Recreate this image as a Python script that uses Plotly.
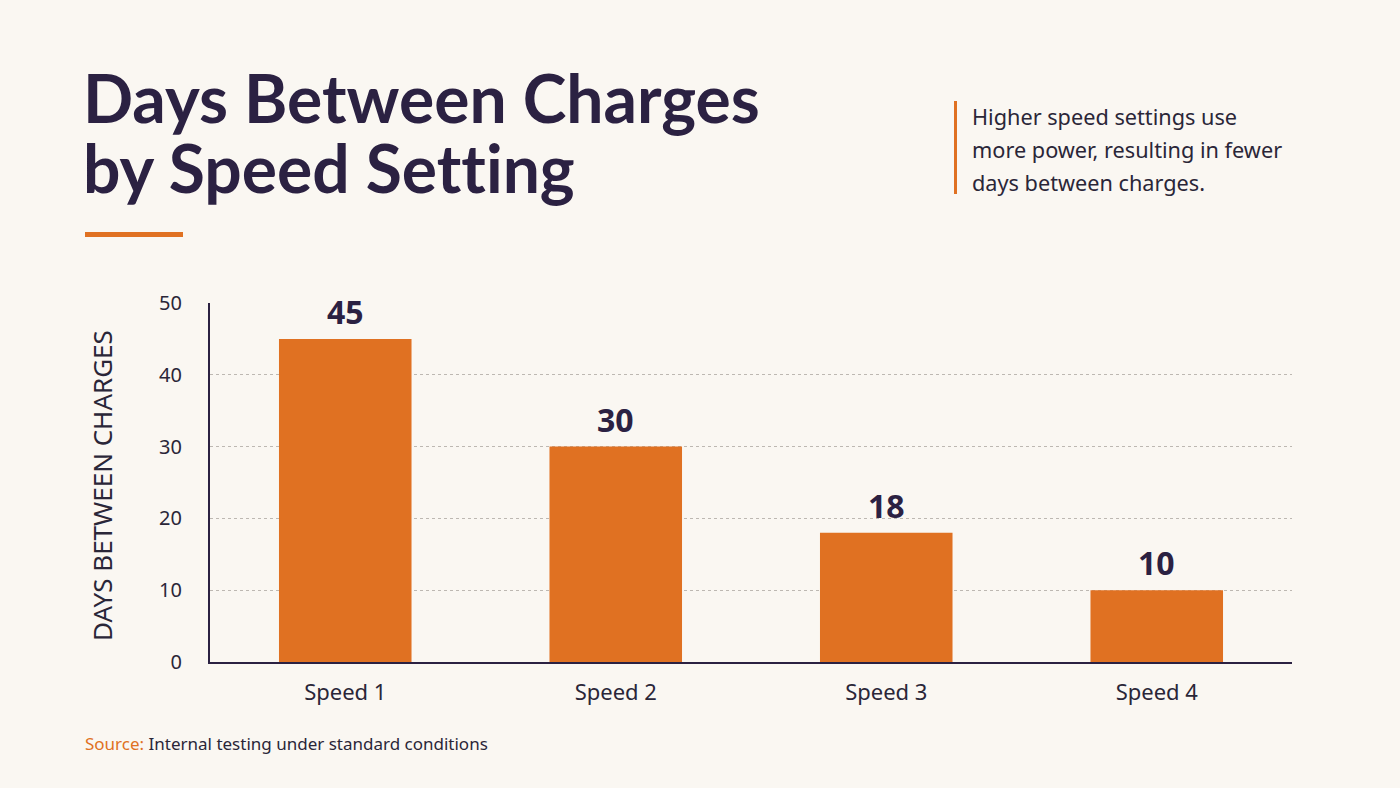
import plotly.graph_objects as go

categories = ["Speed 1", "Speed 2", "Speed 3", "Speed 4"]
days = [45, 30, 18, 10]
y_ticks = [0, 10, 20, 30, 40, 50]

BG = "#FAF7F2"
ORANGE = "#E07122"
DARK = "#2B2142"
TEXT = "#2A2638"
FONT = "Noto Sans"
TITLE_FONT = "Lato"

W, H = 1400, 788
L, R, T, B = 210, 1292, 303, 662


def px(x):
    return (x - L) / (R - L)


def py(y):
    return (B - y) / (B - T)


fig = go.Figure()
fig.add_trace(go.Bar(
    x=categories, y=days, marker=dict(color=ORANGE, line=dict(width=0)),
    width=0.49, hoverinfo="skip",
))

for c, v in zip(categories, days):
    fig.add_annotation(x=c, y=v, xref="x", yref="y", text=f"<b>{v}</b>",
                       showarrow=False, yanchor="bottom", yshift=4,
                       font=dict(family=FONT, size=32, color=DARK))

# Title (ZWNJ avoids the Lato "tt"/"ti" ligatures)
title_lines = ["Days Between Charges", "by Speed Set\u200ct\u200cing"]
for i, line in enumerate(title_lines):
    fig.add_annotation(x=px(81), y=py(97 + 71 * i), xref="paper", yref="paper",
                       text=line, showarrow=False, xanchor="left", yanchor="middle",
                       font=dict(family=TITLE_FONT, size=66, color=DARK, weight=700))

# Subtitle
for i, line in enumerate(["Higher speed settings use", "more power, resulting in fewer",
                          "days between charges."]):
    fig.add_annotation(x=px(970), y=py(116 + 33 * i), xref="paper", yref="paper",
                       text=line, showarrow=False, xanchor="left", yanchor="middle",
                       font=dict(family=FONT, size=21.7, color=TEXT))

# Y axis title
fig.add_annotation(x=px(102), y=py(486), xref="paper", yref="paper",
                   text="DAYS BETWEEN CHARGES", textangle=-90, showarrow=False,
                   xanchor="center", yanchor="middle",
                   font=dict(family=FONT, size=26, color=TEXT))

# Source
fig.add_annotation(x=px(83), y=py(743), xref="paper", yref="paper",
                   text=f"<span style='color:{ORANGE}'>Source:</span> Internal testing under standard conditions",
                   showarrow=False, xanchor="left", yanchor="middle",
                   font=dict(family=FONT, size=17, color=TEXT))

# decorative shapes
fig.add_shape(type="rect", xref="paper", yref="paper",
              x0=px(85), x1=px(183), y0=py(237), y1=py(232),
              fillcolor=ORANGE, line=dict(width=0))
fig.add_shape(type="rect", xref="paper", yref="paper",
              x0=px(954), x1=px(957), y0=py(194), y1=py(101),
              fillcolor=ORANGE, line=dict(width=0))

fig.update_layout(
    width=W, height=H,
    margin=dict(l=L, r=W - R, t=T, b=H - B, pad=0),
    paper_bgcolor=BG, plot_bgcolor=BG,
    showlegend=False,
    bargap=0.51,
)
fig.update_xaxes(
    showline=True, linecolor=DARK, linewidth=2,
    showgrid=False, ticks="", ticklabelstandoff=10,
    tickfont=dict(family=FONT, size=22, color=TEXT),
)
fig.update_yaxes(
    range=[0, 50], tickvals=y_ticks,
    showline=True, linecolor=DARK, linewidth=2,
    showgrid=True, gridcolor="#BDB8B2", gridwidth=1, griddash="dot",
    zeroline=False, ticks="", ticklabelstandoff=22,
    tickfont=dict(family=FONT, size=20, color=TEXT),
)

fig.write_html("out.html")
